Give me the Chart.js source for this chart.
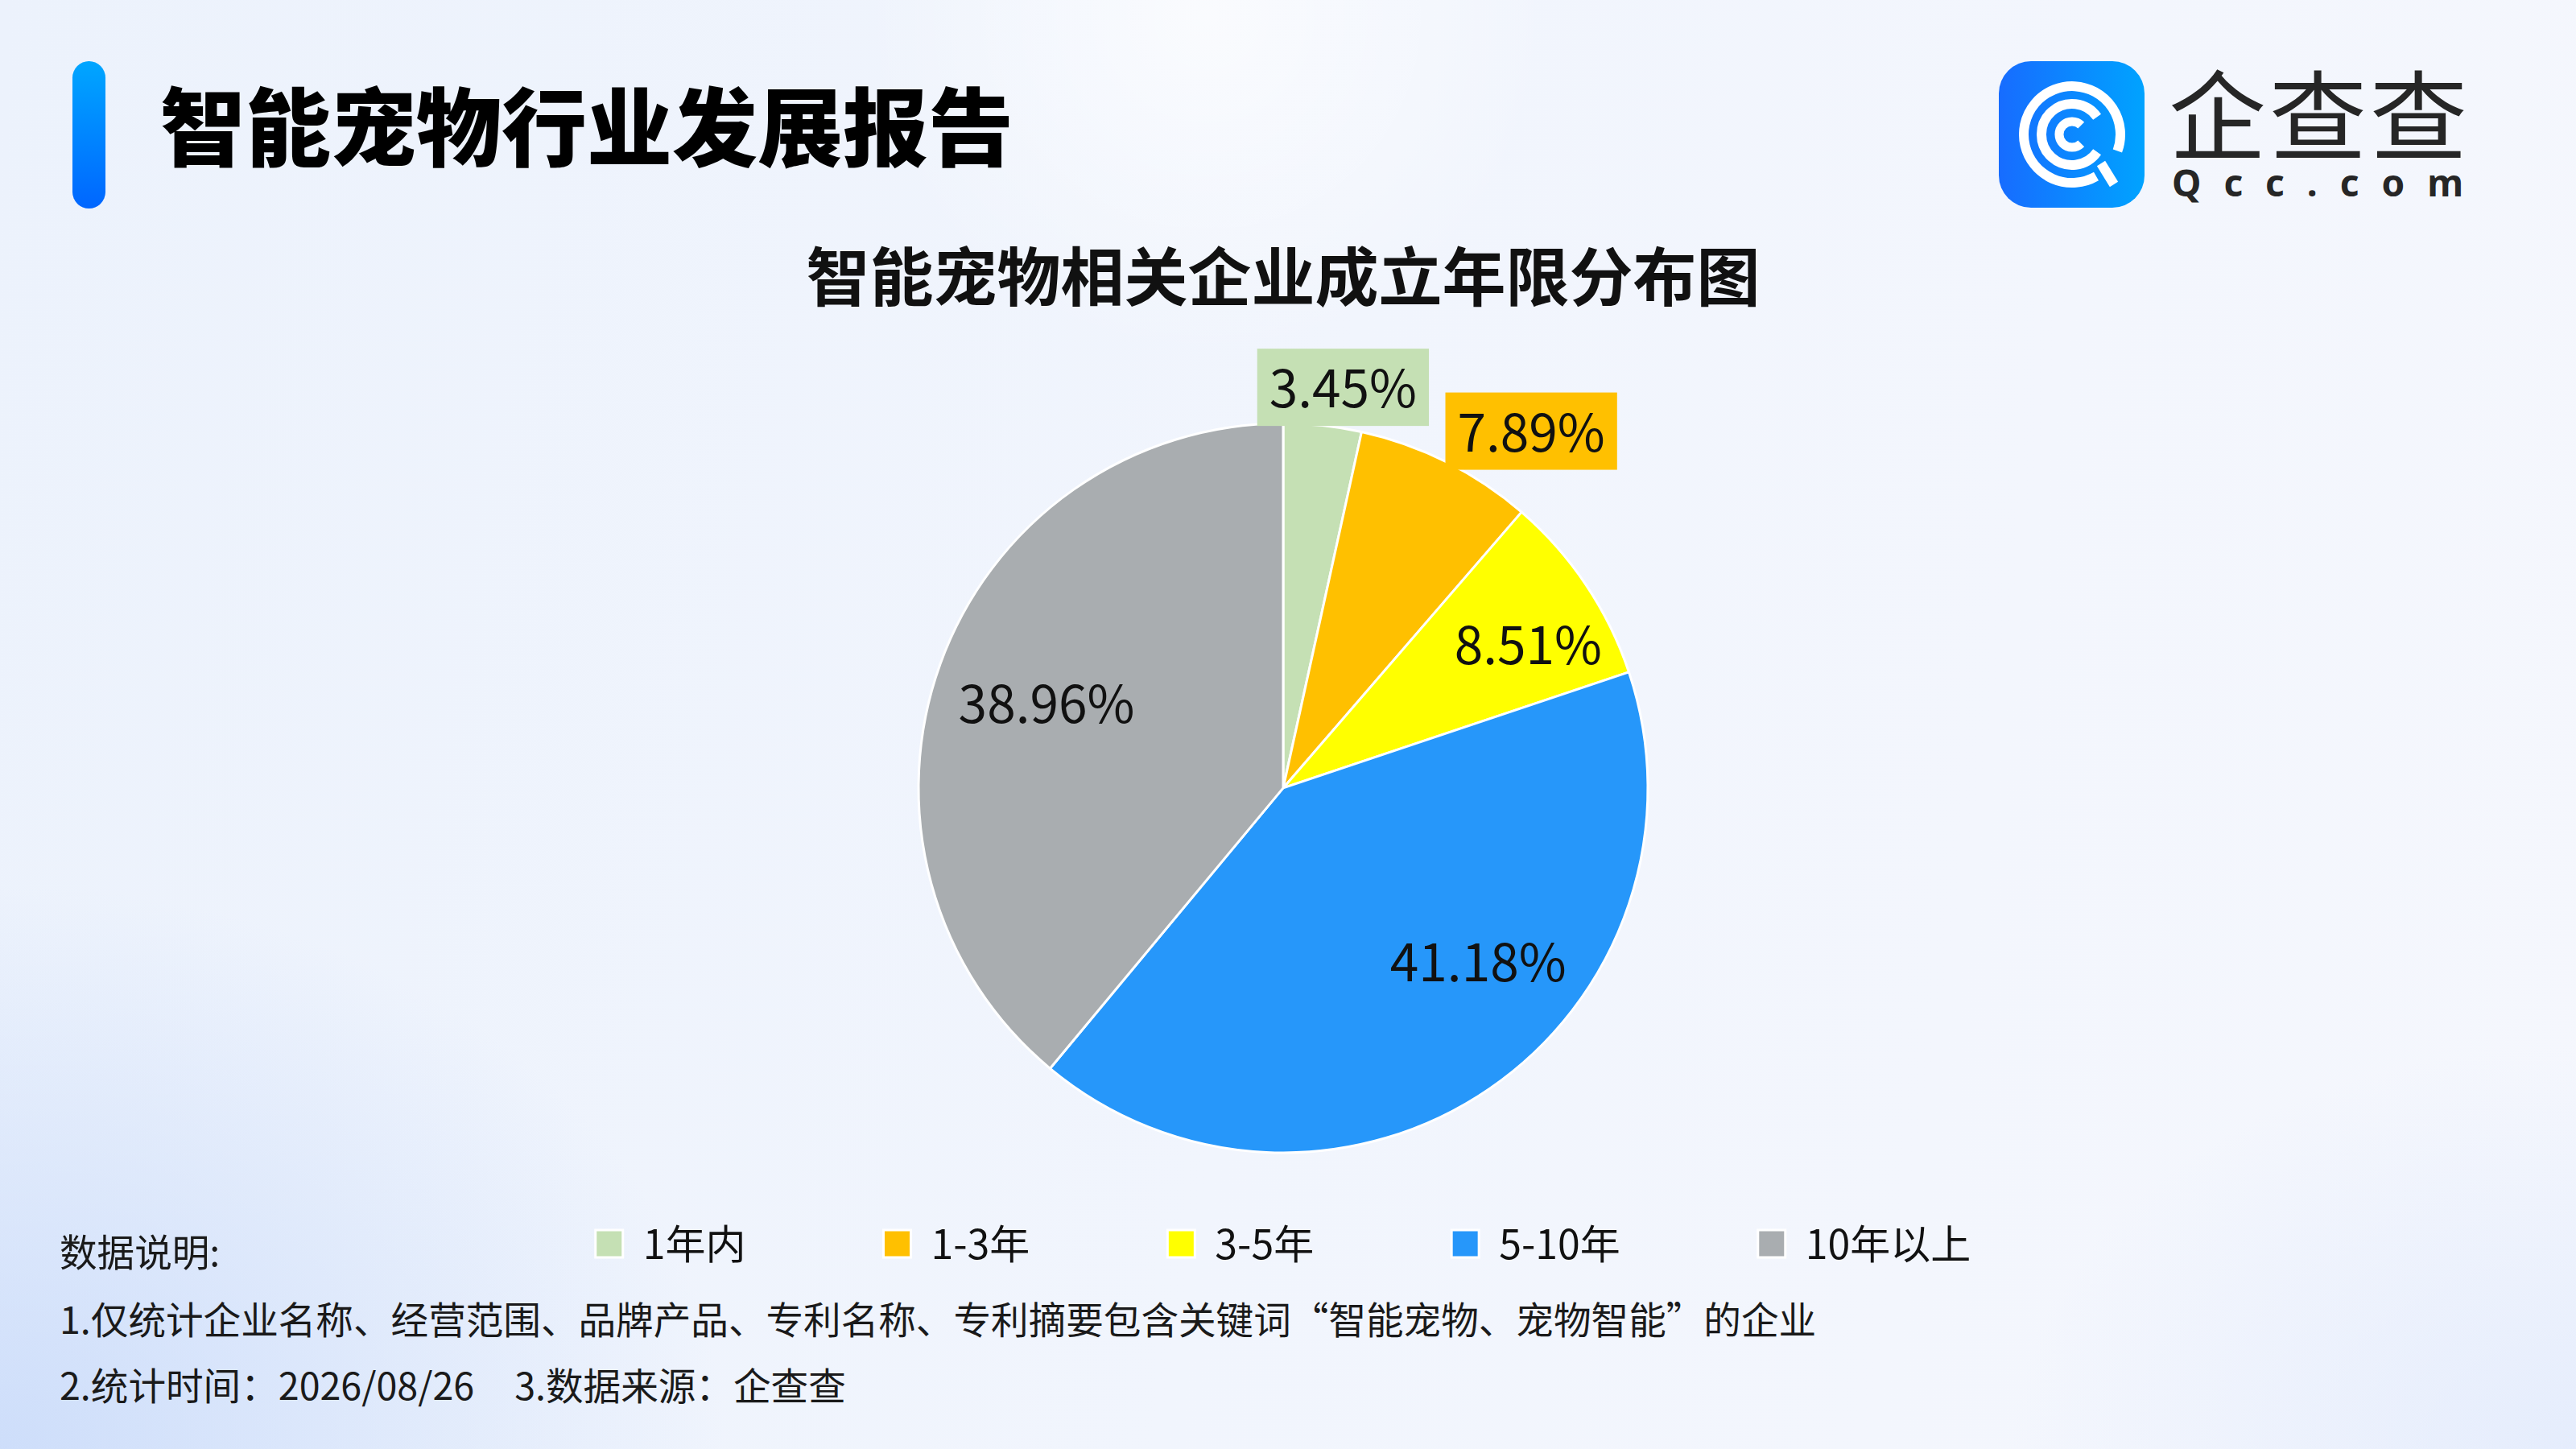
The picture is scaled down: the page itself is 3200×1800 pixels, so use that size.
<!DOCTYPE html>
<html lang="zh-CN">
<head>
<meta charset="utf-8">
<title>智能宠物行业发展报告</title>
<script src="https://cdn.jsdelivr.net/npm/chart.js@4"></script>
<style>
    html, body {
        margin: 0;
        padding: 0;
    }

    body {
        width: 3200px;
        height: 1800px;
        position: relative;
        overflow: hidden;
        font-family: "Noto Sans CJK SC", sans-serif;
        color: #111;
        background:
            radial-gradient(circle at 1500px 20px, rgba(255, 255, 255, 0.65) 0, rgba(255, 255, 255, 0) 430px),
            radial-gradient(ellipse 900px 700px at 0px 1800px, rgba(200, 218, 250, 0.85) 0, rgba(200, 218, 250, 0) 100%),
            radial-gradient(ellipse 700px 500px at 3200px 1800px, rgba(222, 232, 252, 0.7) 0, rgba(222, 232, 252, 0) 100%),
            linear-gradient(100deg, #ecf2fc 0%, #f1f5fd 50%, #f5f7fd 100%);
    }

    .side-bar {
        position: absolute;
        left: 90px;
        top: 76px;
        width: 41px;
        height: 183px;
        border-radius: 21px;
        background: linear-gradient(180deg, #00a6ff 0%, #0066ff 100%);
    }

    .report-title {
        position: absolute;
        left: 199px;
        top: 99px;
        font-size: 106px;
        line-height: 1;
        font-weight: 900;
        color: #000;
        white-space: nowrap;
    }

    .logo-icon {
        position: absolute;
        left: 2483px;
        top: 76px;
    }

    .logo-cn {
        position: absolute;
        left: 2694px;
        top: 76px;
        font-size: 121px;
        line-height: 1;
        font-weight: 400;
        letter-spacing: 4px;
        color: #262626;
        white-space: nowrap;
    }

    .logo-en {
        position: absolute;
        left: 2698px;
        top: 203px;
        font-family: "Noto Sans", sans-serif;
        font-size: 46px;
        line-height: 1;
        font-weight: 700;
        letter-spacing: 28px;
        color: #262626;
        white-space: nowrap;
    }

    .chart-box {
        position: absolute;
        left: -6px;
        top: 250px;
        width: 3200px;
        height: 1330px;
    }

    .note {
        position: absolute;
        left: 74px;
        font-size: 46.6px;
        line-height: 1;
        color: #1a1a1a;
        white-space: nowrap;
    }

    .note .gap {
        display: inline-block;
        width: 50px;
    }
</style>
</head>
<body>
    <div class="side-bar"></div>
    <div class="report-title">智能宠物行业发展报告</div>

    <svg class="logo-icon" width="181" height="182" viewBox="0 0 181 182">
        <defs>
            <linearGradient id="logoBlue" x1="0" y1="0" x2="1" y2="0">
                <stop offset="0" stop-color="#176cff" />
                <stop offset="1" stop-color="#00a3ff" />
            </linearGradient>
        </defs>
        <rect x="0" y="0" width="181" height="182" rx="40" fill="url(#logoBlue)" />
        <g fill="none" stroke="#fff" stroke-width="12">
            <path d="M121 143 A60 60 0 1 1 147.4 111.5" />
            <path d="M122.1 112.8 A38 38 0 1 1 122.1 69.2" />
            <path d="M102.3 102.3 A16 16 0 1 1 102.3 79.7" stroke-width="11" />
            <path d="M127 127 L143 153" />
        </g>
    </svg>
    <div class="logo-cn">企查查</div>
    <div class="logo-en">Qcc.com</div>

    <div class="chart-box"><canvas id="ageChart"></canvas></div>

    <div class="note" style="top:1530px">数据说明:</div>
    <div class="note" style="top:1614px">1.仅统计企业名称、经营范围、品牌产品、专利名称、专利摘要包含关键词“智能宠物、宠物智能”的企业</div>
    <div class="note" style="top:1696px">2.统计时间：2026/08/26<span class="gap"></span>3.数据来源：企查查</div>

<script>
"use strict"

// Chart data
const chartTitle = "智能宠物相关企业成立年限分布图";
const ageGroups = ["1年内", "1-3年", "3-5年", "5-10年", "10年以上"];
const sharePercents = [3.45, 7.89, 8.51, 41.18, 38.96];
const sliceColors = ["#c5e0b4", "#ffc000", "#ffff00", "#2697fa", "#a9adb0"];

Chart.defaults.font.family = "'Noto Sans CJK SC', sans-serif";
Chart.defaults.color = "#111";

// Percent labels, small slices get a coloured box outside the pie
const sliceLabels = {
    id: 'sliceLabels',
    afterDatasetsDraw(chart, args, opts) {
        const { ctx } = chart;
        const dataset = chart.data.datasets[0];
        const arcs = chart.getDatasetMeta(0).data;

        ctx.save();
        ctx.font = opts.font;
        ctx.textAlign = "center";
        ctx.textBaseline = "middle";

        arcs.forEach((arc, i) => {
            const { x, y, startAngle, endAngle, outerRadius } =
                arc.getProps(['x', 'y', 'startAngle', 'endAngle', 'outerRadius'], true);
            const tweak = opts.tweaks[i] || {};
            const mid = (startAngle + endAngle) / 2 + (tweak.angle || 0) * Math.PI / 180;
            const cos = Math.cos(mid);
            const sin = Math.sin(mid);
            const text = dataset.data[i].toFixed(2) + "%";

            if (dataset.data[i] < opts.outsideBelow) {
                // angle measured clockwise from 12 o'clock
                const fromTop = mid + Math.PI / 2;
                const w = ctx.measureText(text).width + opts.boxPadX * 2;
                const h = opts.boxHeight;
                const ax = x + cos * outerRadius;
                const ay = y + sin * outerRadius;
                const cx = ax + (w / 2) * Math.min(1, 2.2 * Math.sin(fromTop));
                const cy = ay - (h / 2) * Math.pow(Math.cos(fromTop), 2);

                ctx.fillStyle = dataset.backgroundColor[i];
                ctx.fillRect(cx - w / 2, cy - h / 2, w, h);
                ctx.fillStyle = opts.color;
                ctx.fillText(text, cx, cy + opts.textShift);
            } else {
                const f = tweak.r || opts.insideRadius;
                ctx.fillStyle = opts.color;
                ctx.fillText(text, x + cos * outerRadius * f, y + sin * outerRadius * f + opts.textShift);
            }
        });

        ctx.restore();
    }
};

new Chart(document.getElementById("ageChart"), {
    type: 'pie',
    data: {
        labels: ageGroups,
        datasets: [{
            data: sharePercents,
            backgroundColor: sliceColors,
            borderColor: "#ffffff",
            borderWidth: 3,
            radius: 453
        }]
    },
    options: {
        responsive: true,
        maintainAspectRatio: false,
        animation: false,
        events: [],
        plugins: {
            title: {
                display: true,
                text: chartTitle,
                color: "#111",
                font: { size: 79, weight: 700 },
                padding: { top: 47, bottom: 217 }
            },
            legend: {
                position: 'bottom',
                labels: {
                    boxWidth: 34,
                    boxHeight: 34,
                    padding: 171,
                    color: "#111",
                    font: { size: 50 }
                }
            },
            tooltip: { enabled: false },
            sliceLabels: {
                font: "64px 'Noto Sans CJK SC', sans-serif",
                color: "#111",
                outsideBelow: 8,
                boxPadX: 15,
                boxHeight: 96,
                insideRadius: 0.72,
                textShift: 1,
                tweaks: {
                    2: { angle: 3.3, r: 0.78 },
                    3: { angle: -14, r: 0.715 },
                    4: { r: 0.69 }
                }
            }
        }
    },
    plugins: [sliceLabels]
});
</script>
</body>
</html>
